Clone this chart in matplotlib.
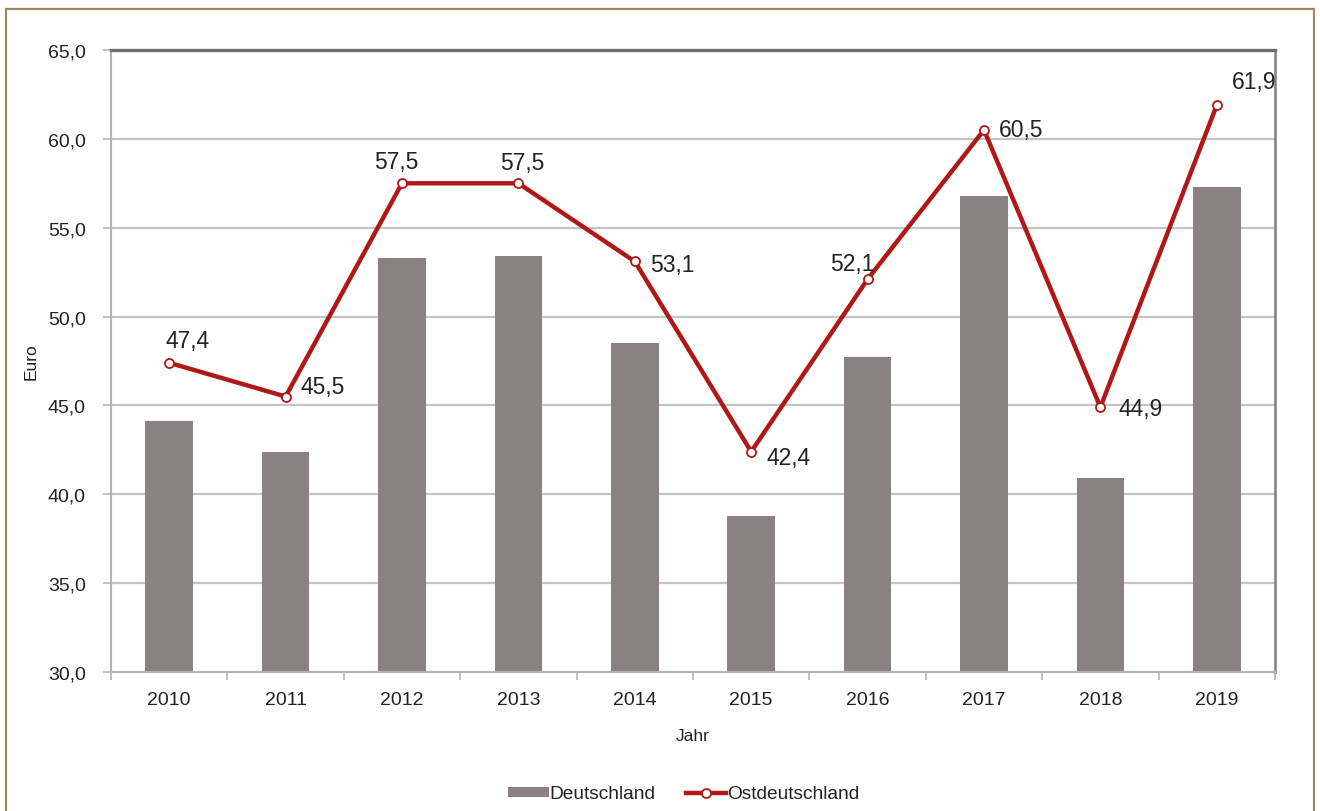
import matplotlib
matplotlib.use("Agg")
import matplotlib.pyplot as plt
from matplotlib.patches import Rectangle
from matplotlib.lines import Line2D
from matplotlib.patches import Patch

plt.rcParams['font.family'] = ['Liberation Sans', 'DejaVu Sans']

years = ["2010", "2011", "2012", "2013", "2014", "2015", "2016", "2017", "2018", "2019"]
deutschland = [44.1, 42.4, 53.3, 53.4, 48.5, 38.8, 47.7, 56.8, 40.9, 57.3]
ostdeutschland = [47.4, 45.5, 57.5, 57.5, 53.1, 42.4, 52.1, 60.5, 44.9, 61.9]
y_ticks = [30, 35, 40, 45, 50, 55, 60, 65]

# label offsets (points) and alignment for each Ostdeutschland value
label_offsets = [(13, 16), (11, 7), (-4, 16), (3, 15), (11, -2), (11, -4), (-11, 11), (11, 0), (13, -1), (27, 17)]
label_ha = ["center", "left", "center", "center", "left", "left", "center", "left", "left", "center"]

bar_color = "#8a8282"
line_color = "#b01818"
grid_color = "#c4c4c4"
text_color = "#222222"

fig = plt.figure(figsize=(13.2, 8.12), dpi=100)
fig.patch.set_facecolor("white")

# outer frame
fig.add_artist(Rectangle((6 / 1320, -0.05), 1308 / 1320, 1.05 - 10 / 812,
                         transform=fig.transFigure, fill=False,
                         edgecolor="#9c8a5c", linewidth=1.6))

ax = fig.add_axes([111 / 1320, 1 - 673 / 812, 1164 / 1320, 622 / 812])
x = list(range(len(years)))

ax.bar(x, [v - 30 for v in deutschland], bottom=30, width=0.41, color=bar_color, zorder=2)
ax.plot(x, ostdeutschland, color=line_color, linewidth=3.2, marker="o",
        markersize=6.5, markerfacecolor="white", markeredgecolor=line_color,
        markeredgewidth=1.3, zorder=4)

for xi, v, off, ha in zip(x, ostdeutschland, label_offsets, label_ha):
    ax.annotate(f"{v:.1f}".replace(".", ","), (xi, v), xytext=off,
                textcoords="offset points", ha=ha, va="center",
                fontsize=16.5, color=text_color, zorder=5)

ax.set_xlim(-0.5, len(years) - 0.5)
ax.set_ylim(30, 65)
ax.set_yticks(y_ticks)
ax.set_yticklabels([f"{t:.1f}".replace(".", ",") for t in y_ticks])
ax.set_xticks(x)
ax.set_xticklabels(years)
ax.set_xticks([i - 0.5 for i in range(len(years) + 1)], minor=True)

ax.yaxis.grid(True, color=grid_color, linewidth=1.6, zorder=0)
ax.set_axisbelow(True)

ax.tick_params(axis="y", which="major", length=6, width=1.2, color="#b5b5b5",
               labelsize=14, labelcolor=text_color, pad=12)
ax.tick_params(axis="x", which="major", length=0, labelsize=14,
               labelcolor=text_color, pad=14)
ax.tick_params(axis="x", which="minor", length=6, width=1.2, color="#b5b5b5")

for side in ("left", "bottom"):
    ax.spines[side].set_color("#b5b5b5")
    ax.spines[side].set_linewidth(1.5)
ax.spines["top"].set_color("#6e6e6e")
ax.spines["top"].set_linewidth(2.4)
ax.spines["right"].set_color("#808080")
ax.spines["right"].set_linewidth(1.8)

ax.set_xlabel("Jahr", fontsize=12.5, color=text_color, labelpad=14)
ax.set_ylabel("Euro", fontsize=12.5, color=text_color)
ax.yaxis.set_label_coords((39 - 111) / 1164, 0.5)

handles = [
    Patch(facecolor=bar_color, edgecolor="none", label="Deutschland"),
    Line2D([0], [0], color=line_color, linewidth=3.2, marker="o", markersize=6.5,
           markerfacecolor="white", markeredgecolor=line_color, markeredgewidth=1.3,
           label="Ostdeutschland"),
]
fig.legend(handles=handles, loc="center", bbox_to_anchor=(684 / 1320, 1 - 795 / 812),
           ncol=2, frameon=False, fontsize=13.8, handlelength=2.1, handleheight=0.45,
           handletextpad=0.05, columnspacing=1.6, labelcolor=text_color)

fig.savefig("out.png", dpi=100, facecolor="white")
